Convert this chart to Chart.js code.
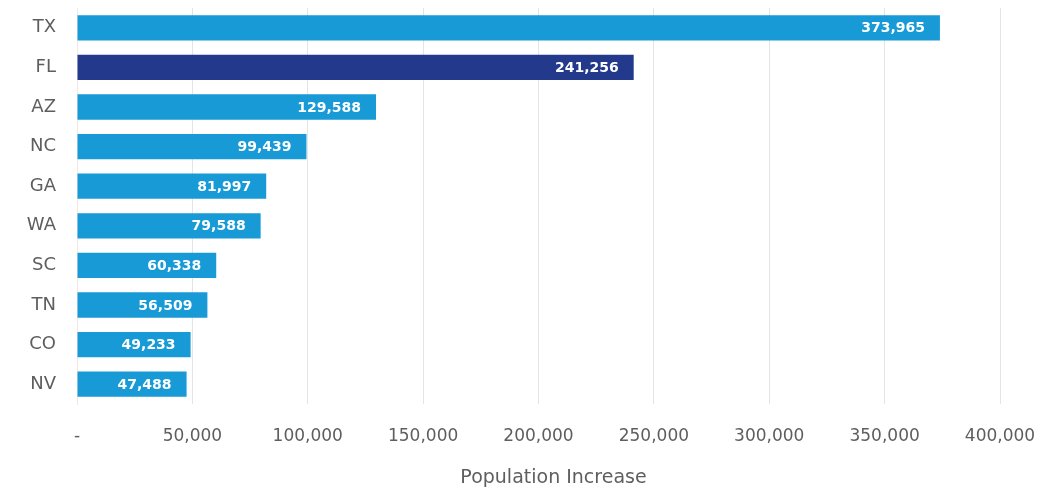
<!DOCTYPE html>
<html>
<head>
<meta charset="utf-8">
<script src="https://cdn.jsdelivr.net/npm/chart.js@4/dist/chart.umd.min.js"></script>
<style>
    html, body { margin: 0; padding: 0; background: #fff; }
    #wrap { width: 1055px; height: 491px; }
</style>
</head>
<body>
<div id="wrap"><canvas id="popChart"></canvas></div>
<script>
// Data
const states = ['TX', 'FL', 'AZ', 'NC', 'GA', 'WA', 'SC', 'TN', 'CO', 'NV'];
const increases = [373965, 241256, 129588, 99439, 81997, 79588, 60338, 56509, 49233, 47488];
const highlightState = 'FL';
const axisTitle = 'Population Increase';

const lightBlue = '#189ad6';
const darkBlue = '#233a8c';
const textGray = '#5e5e5e';

const barColors = states.map(s => s === highlightState ? darkBlue : lightBlue);

// Value labels at the end of each bar, plus the x axis title
// (drawn by hand because it sits a bit right of the plot centre)
const valueLabels = {
    id: 'valueLabels',
    afterDatasetsDraw(chart) {
        const ctx = chart.ctx;
        const meta = chart.getDatasetMeta(0);
        ctx.save();
        ctx.font = 'bold 14px "DejaVu Sans", sans-serif';
        ctx.fillStyle = '#ffffff';
        ctx.textAlign = 'right';
        ctx.textBaseline = 'middle';
        meta.data.forEach((bar, i) => {
            ctx.fillText(increases[i].toLocaleString('en-US'), bar.x - 15, bar.y + 1);
        });
        ctx.restore();
    },
    afterDraw(chart) {
        const ctx = chart.ctx;
        const area = chart.chartArea;
        ctx.save();
        ctx.font = '19px "DejaVu Sans", sans-serif';
        ctx.fillStyle = textGray;
        ctx.textAlign = 'center';
        ctx.textBaseline = 'middle';
        ctx.fillText(axisTitle, (area.left + area.right) / 2 + 15, area.bottom + 74);
        ctx.restore();
    }
};

const ctx = document.getElementById('popChart').getContext('2d');
new Chart(ctx, {
    type: 'bar',
    data: {
        labels: states,
        datasets: [{
            data: increases,
            backgroundColor: barColors,
            categoryPercentage: 0.64,
            barPercentage: 1.0
        }]
    },
    options: {
        indexAxis: 'y',
        responsive: true,
        maintainAspectRatio: false,
        animation: false,
        layout: { padding: { top: 8, right: 55, bottom: 0, left: 0 } },
        plugins: {
            legend: { display: false },
            tooltip: { enabled: false }
        },
        scales: {
            x: {
                min: 0,
                max: 400000,
                grid: { color: '#e4e4e4', drawTicks: false },
                border: { display: false },
                ticks: {
                    stepSize: 50000,
                    padding: 22,
                    color: textGray,
                    font: { family: 'DejaVu Sans', size: 17 },
                    callback: v => v === 0 ? '-' : v.toLocaleString('en-US')
                },
                afterFit: scale => {
                    scale.height = 87;
                    scale.paddingLeft = 0;
                    scale.paddingRight = 0;
                }
            },
            y: {
                grid: { display: false, drawTicks: false },
                border: { color: '#f3e6e6' },
                ticks: {
                    padding: 21,
                    color: textGray,
                    font: { family: 'DejaVu Sans', size: 18 }
                },
                afterFit: scale => {
                    scale.width = 77;
                    scale.paddingTop = 0;
                    scale.paddingBottom = 0;
                }
            }
        }
    },
    plugins: [valueLabels]
});
</script>
</body>
</html>
